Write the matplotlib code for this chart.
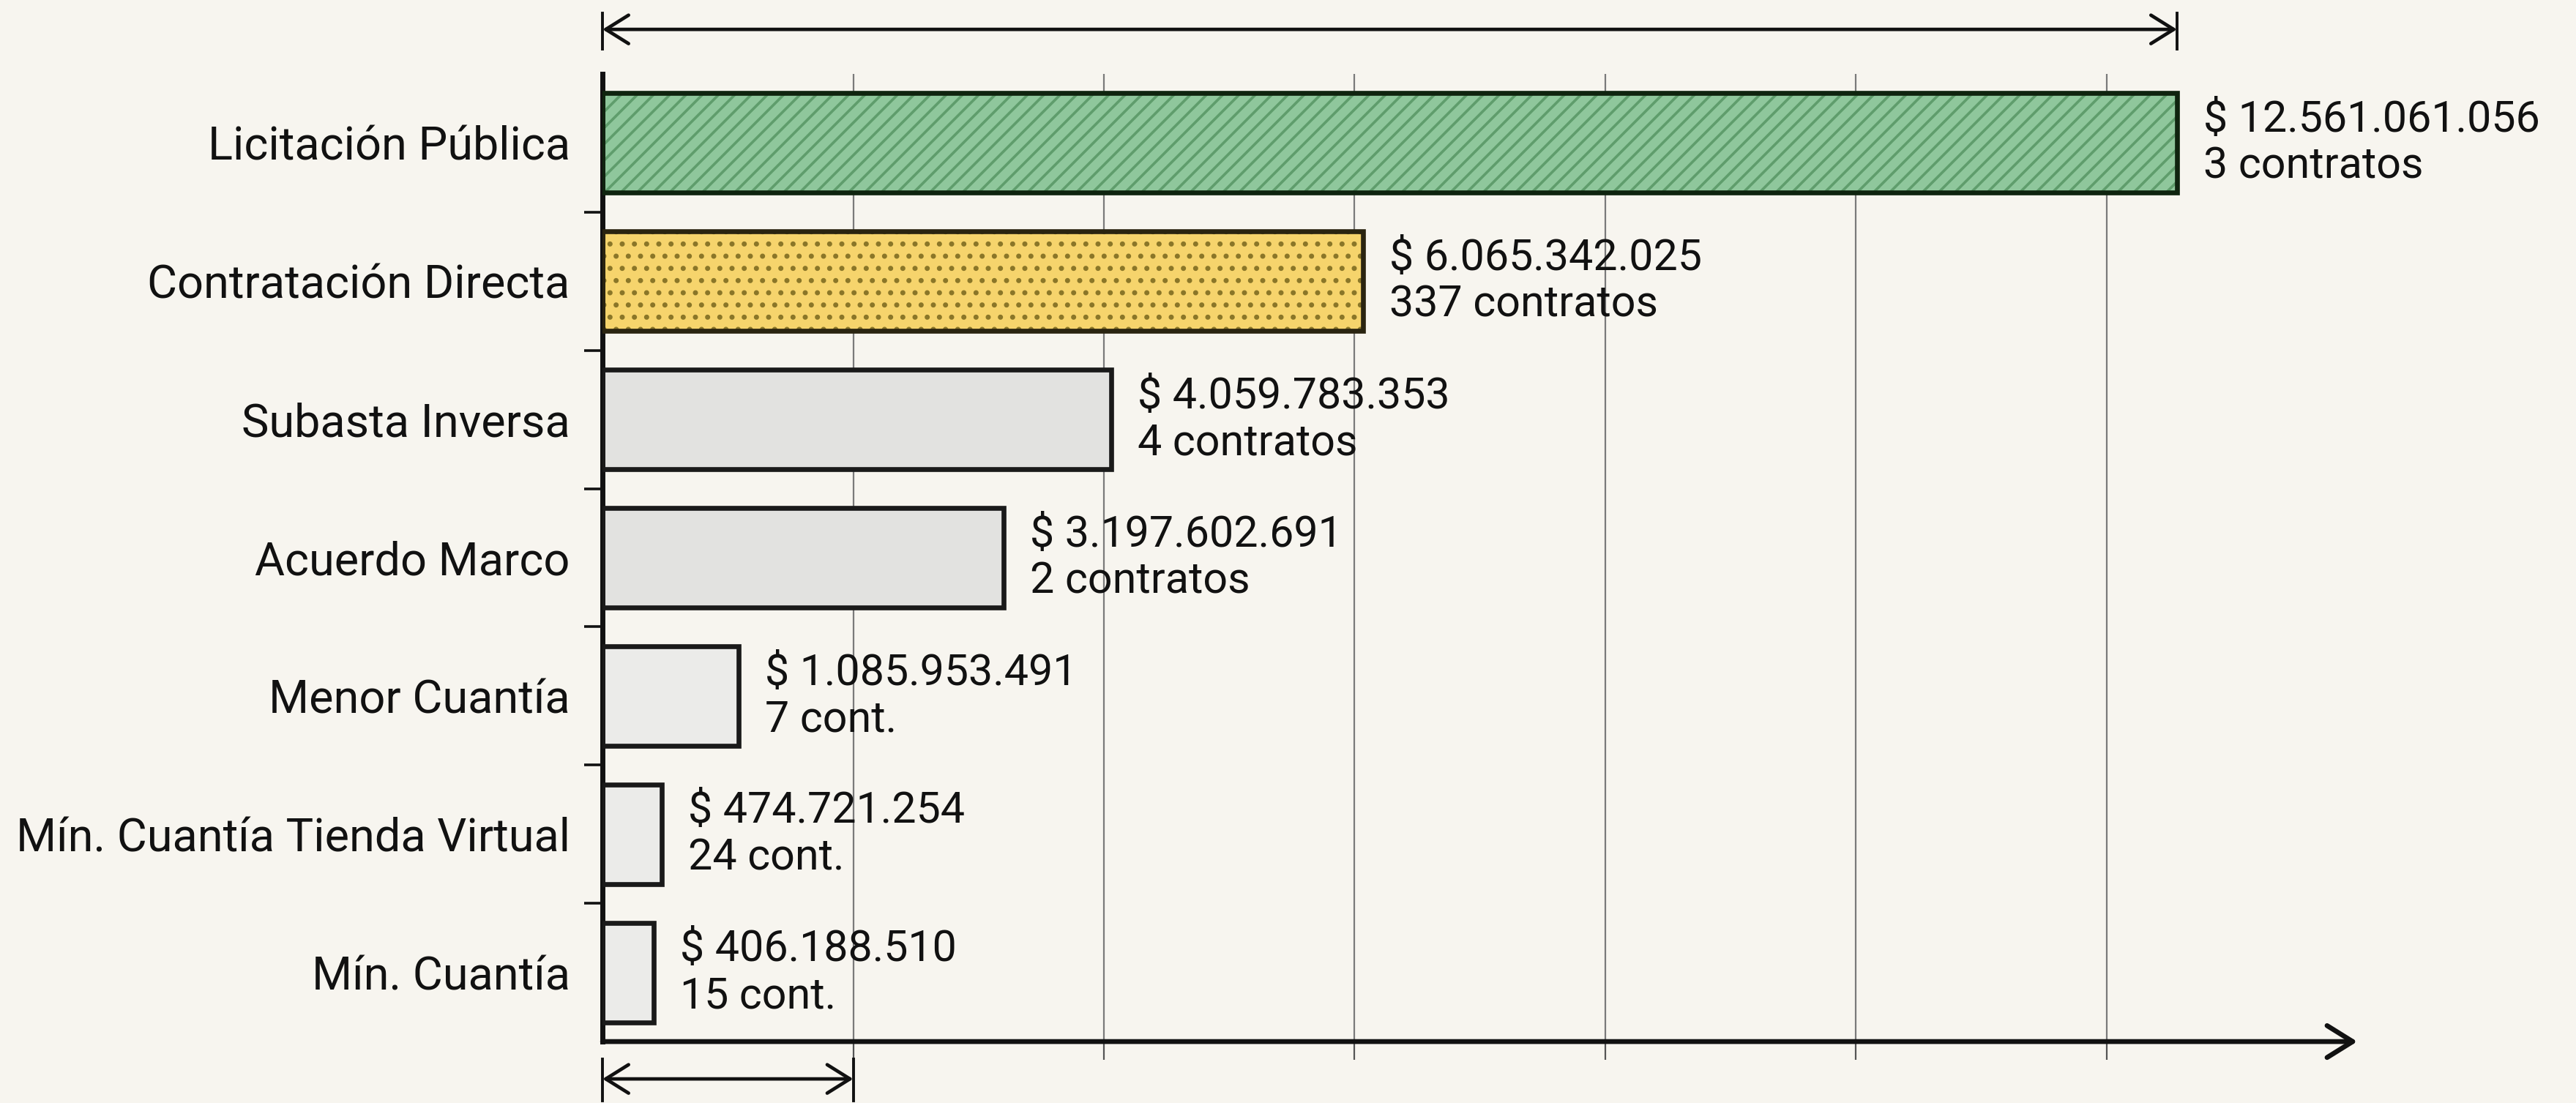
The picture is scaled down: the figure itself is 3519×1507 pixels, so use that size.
import numpy as np
import matplotlib
matplotlib.use('Agg')
import matplotlib.pyplot as plt

# ── Data: contract value by procurement modality ──
modalidades = [
    'Licitación Pública',
    'Contratación Directa',
    'Subasta Inversa',
    'Acuerdo Marco',
    'Menor Cuantía',
    'Mín. Cuantía Tienda Virtual',
    'Mín. Cuantía',
]
valores = [12561061056, 6065342025, 4059783353, 3197602691,
           1085953491, 474721254, 406188510]
contratos = [3, 337, 4, 2, 7, 24, 15]
sufijos = ['contratos', 'contratos', 'contratos', 'contratos',
           'cont.', 'cont.', 'cont.']

# ── Styles ──
BG = '#f7f5ef'
FILL = ['#8fc79c', '#f6d46c', '#e2e2e0', '#e2e2e0', '#ebebe9', '#ebebe9', '#ebebe9']
HATCH = ['///', '..', None, None, None, None, None]
HATCH_COLOR = ['#5f9d6c', '#8a7628', 'none', 'none', 'none', 'none', 'none']
EDGE = ['#0f240f', '#2a2410', '#1a1a1a', '#1a1a1a', '#1a1a1a', '#1a1a1a', '#1a1a1a']
FS_CAT = 22.7
FS_VAL = 21.3

plt.rcParams['font.family'] = ['Roboto', 'DejaVu Sans']
plt.rcParams['hatch.linewidth'] = 1.3


def miles(v):
    return f'{v:,}'.replace(',', '.')


fig = plt.figure(figsize=(17.595, 7.535), dpi=200, facecolor=BG)
ax = fig.add_axes([0.2339, 0.0557, 0.6812, 0.8773])
ax.set_facecolor(BG)

y = np.arange(len(modalidades))
h = 0.72

# fill + texture, then a separate outline pass
for i, v in enumerate(valores):
    ax.barh(y[i], v, height=h, color=FILL[i], hatch=HATCH[i],
            edgecolor=HATCH_COLOR[i], linewidth=0, zorder=2)
    ax.barh(y[i], v, height=h, facecolor='none', edgecolor=EDGE[i],
            linewidth=2.4, zorder=3)
    ax.annotate(f'$ {miles(v)}\n{contratos[i]} {sufijos[i]}',
                xy=(v, y[i]), xytext=(13, 0), textcoords='offset points',
                ha='left', va='center', fontsize=FS_VAL, linespacing=1.15,
                color='#111111')

ax.set_xlim(0, 14e9)
ax.set_ylim(6.5, -0.5)

# vertical grid every 2e9
ax.set_xticks(np.arange(2e9, 13e9, 2e9))
ax.xaxis.grid(True, color='#7a7a7a', linewidth=0.8)
ax.set_axisbelow(True)
ax.tick_params(axis='x', length=9, width=0.8, color='#555555',
               labelbottom=False)

ax.set_yticks(y)
ax.set_yticklabels(modalidades, fontsize=FS_CAT, color='#111111')
ax.set_yticks(np.arange(0.5, 6, 1), minor=True)
ax.tick_params(axis='y', which='major', length=0, pad=16)
ax.tick_params(axis='y', which='minor', length=9, width=1.3, color='#111111')

for s in ['top', 'right', 'bottom']:
    ax.spines[s].set_visible(False)
ax.spines['left'].set_linewidth(2.5)
ax.spines['left'].set_color('#111111')

# x axis drawn as an arrow
ax.annotate('', xy=(14e9, 6.5), xytext=(0, 6.5),
            arrowprops=dict(arrowstyle='->, head_length=0.45, head_width=0.28',
                            lw=2.4, color='#111111', mutation_scale=28,
                            shrinkA=0, shrinkB=0),
            annotation_clip=False)

# dimension arrows: full range on top, one grid step below
trans = ax.get_xaxis_transform()


def dimension(x0, x1, yc, y_lo, y_hi):
    ax.annotate('', xy=(x1, yc), xytext=(x0, yc), xycoords=trans,
                arrowprops=dict(arrowstyle='<->, head_length=0.4, head_width=0.25',
                                lw=1.7, color='#111111', mutation_scale=28,
                                shrinkA=0, shrinkB=0),
                annotation_clip=False)
    for xe in (x0, x1):
        ax.plot([xe, xe], [y_lo, y_hi], transform=trans, color='#111111',
                lw=1.4, clip_on=False)


dimension(0, max(valores), 1.046, 1.026, 1.063)
dimension(0, 2e9, -0.0386, -0.061, -0.018)

fig.savefig('out.png', dpi=200, facecolor=BG)
